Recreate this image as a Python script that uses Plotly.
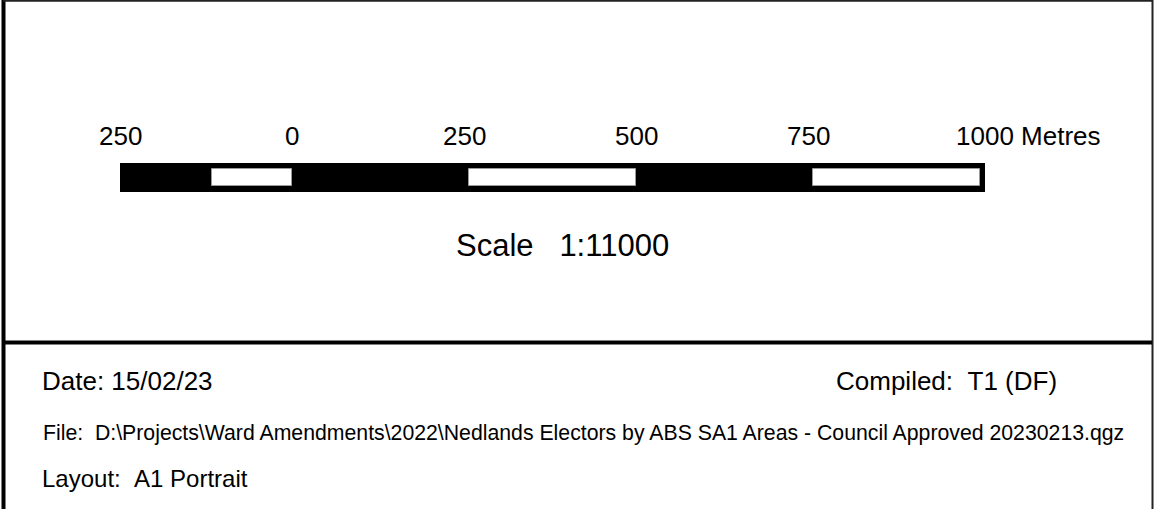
import plotly.graph_objects as go

# ---- data (metres) ----
tick_values = [-250, 0, 250, 500, 750, 1000]
tick_labels = ["250", "0", "250", "500", "750", "1000 Metres"]
bar_start = -250
bar_end = 1007
white_starts = [-116, 257, 757]
white_ends = [0, 500, 1000]

scale_text = "Scale\u00a0\u00a0\u00a01:11000"
date_text = "Date: 15/02/23"
compiled_text = "Compiled:\u00a0\u00a0T1 (DF)"
file_text = ("File:\u00a0\u00a0D:\\Projects\\Ward Amendments\\2022\\Nedlands Electors by ABS SA1 "
             "Areas - Council Approved 20230213.qgz")
layout_text = "Layout:\u00a0\u00a0A1 Portrait"

W, H = 1156, 509
PX_PER_M = 0.688
ZERO_PX = 292
x_range = [(0 - ZERO_PX) / PX_PER_M, (W - ZERO_PX) / PX_PER_M]

FONT = "Liberation Sans, Arial, sans-serif"

fig = go.Figure()

# outer black bar
fig.add_trace(go.Bar(
    y=[177.5], x=[bar_end - bar_start], base=[bar_start], orientation="h",
    width=29, marker=dict(color="black", line=dict(width=0)), hoverinfo="skip",
))
# white segments
fig.add_trace(go.Bar(
    y=[177.5] * len(white_starts),
    x=[e - s for s, e in zip(white_starts, white_ends)],
    base=white_starts, orientation="h", width=17,
    marker=dict(color="white", line=dict(color="#9a9a9a", width=1)),
    hoverinfo="skip",
))

annotations = []
for v, lab in zip(tick_values, tick_labels):
    if lab.endswith("Metres"):
        annotations.append(dict(x=v, y=136, xref="x", yref="y", text=lab, showarrow=False,
                                xanchor="left", yanchor="middle", xshift=-26,
                                font=dict(family=FONT, size=26, color="black")))
    else:
        annotations.append(dict(x=v, y=136, xref="x", yref="y", text=lab, showarrow=False,
                                xanchor="center", yanchor="middle",
                                font=dict(family=FONT, size=26, color="black")))

annotations.append(dict(x=562 / W, y=245, xref="paper", yref="y", text=scale_text,
                        showarrow=False, xanchor="center", yanchor="middle",
                        font=dict(family=FONT, size=31, color="black")))
annotations.append(dict(x=40 / W, y=381, xref="paper", yref="y", text=date_text,
                        showarrow=False, xanchor="left", yanchor="middle",
                        font=dict(family=FONT, size=26, color="black")))
annotations.append(dict(x=1059 / W, y=381, xref="paper", yref="y", text=compiled_text,
                        showarrow=False, xanchor="right", yanchor="middle",
                        font=dict(family=FONT, size=26, color="black")))
annotations.append(dict(x=41 / W, y=433, xref="paper", yref="y", text=file_text,
                        showarrow=False, xanchor="left", yanchor="middle",
                        font=dict(family=FONT, size=21.25, color="black")))
annotations.append(dict(x=40 / W, y=478, xref="paper", yref="y", text=layout_text,
                        showarrow=False, xanchor="left", yanchor="middle",
                        font=dict(family=FONT, size=24, color="black")))

shapes = [
    dict(type="line", xref="paper", yref="y", x0=3.5 / W, x1=3.5 / W, y0=0, y1=H,
         line=dict(color="black", width=4)),
    dict(type="line", xref="paper", yref="y", x0=1152.5 / W, x1=1152.5 / W, y0=0, y1=H,
         line=dict(color="#222", width=2)),
    dict(type="line", xref="paper", yref="y", x0=3 / W, x1=1152 / W, y0=0.8, y1=0.8,
         line=dict(color="#222", width=2)),
    dict(type="line", xref="paper", yref="y", x0=3 / W, x1=1152 / W, y0=342.5, y1=342.5,
         line=dict(color="black", width=4)),
]

fig.update_layout(
    width=W, height=H, margin=dict(l=0, r=0, t=0, b=0),
    paper_bgcolor="white", plot_bgcolor="white",
    showlegend=False, barmode="overlay", bargap=0,
    xaxis=dict(range=x_range, visible=False, fixedrange=True),
    yaxis=dict(range=[H, 0], visible=False, fixedrange=True),
    annotations=annotations, shapes=shapes,
)

fig.write_html(
    "out.html",
    config={"displayModeBar": False},
    post_script="document.body.style.margin='0';document.body.style.overflow='hidden';",
)
